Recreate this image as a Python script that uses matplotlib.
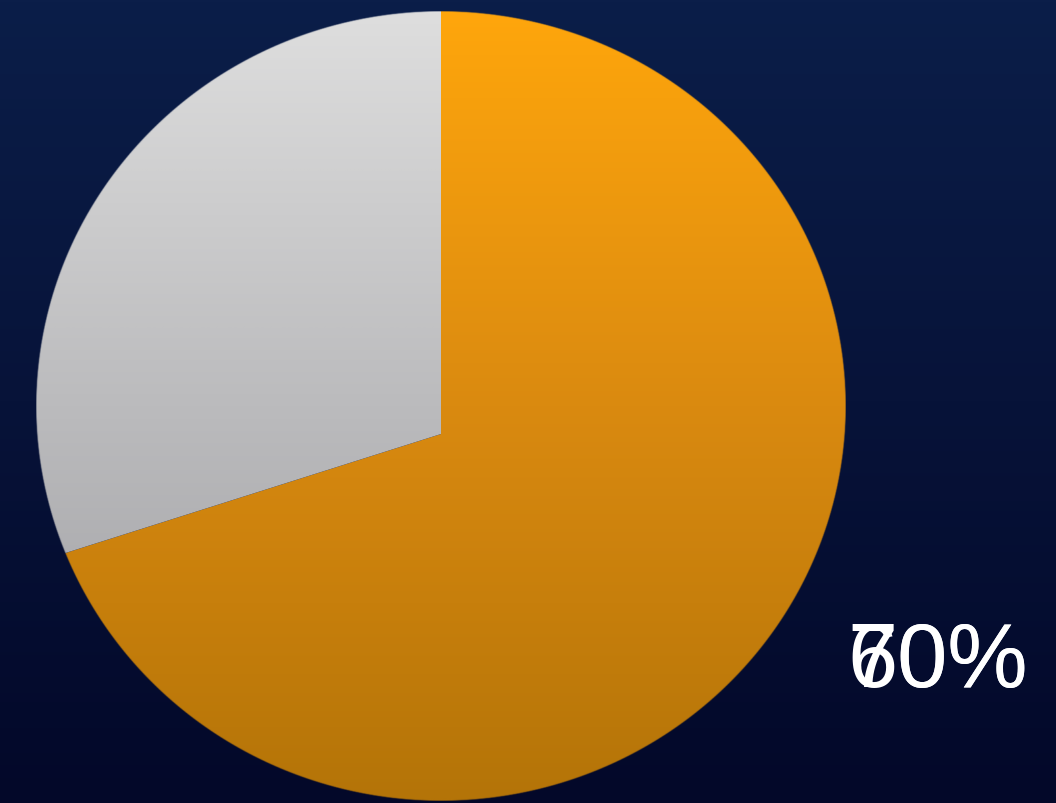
import numpy as np
import matplotlib
matplotlib.use("Agg")
import matplotlib.pyplot as plt
from matplotlib.colors import LinearSegmentedColormap

# Data
categories = ["Done", "Remaining"]
values = [70, 30]
labels = ["70%", "60%"]

W, H = 1056, 804
fig = plt.figure(figsize=(W / 100, H / 100), dpi=100)

# Background gradient
bg = fig.add_axes([0, 0, 1, 1])
bg_cmap = LinearSegmentedColormap.from_list("bg", ["#0B1E49", "#030829"])
bg.imshow(np.linspace(0, 1, 256).reshape(-1, 1), aspect="auto", cmap=bg_cmap,
          extent=(0, 1, 0, 1), origin="upper")
bg.set_axis_off()

# Pie axes (pixel geometry): outline ellipse, vertex slightly below its centre
cx, cy = 441, 407
rx, ry = 405, 395
vertex_off = 28 / ry
ax = fig.add_axes([(cx - rx) / W, (H - cy - ry) / H, 2 * rx / W, 2 * ry / H])
ax.set_facecolor("none")
wedges, _ = ax.pie(values, startangle=90, counterclock=False,
                   colors=["none", "none"], radius=1.2,
                   center=(0, -vertex_off),
                   wedgeprops=dict(linewidth=0))
ax.set_xlim(-1, 1)
ax.set_ylim(-1, 1)
ax.set_aspect("auto")
ax.set_axis_off()

# gradient images with the outline (unit circle in axes data) as alpha mask
n = 1200
ys, xs = np.mgrid[1:-1:n * 1j, -1:1:n * 1j]
r = np.sqrt(xs ** 2 + ys ** 2)
alpha = np.clip((1 - r) * ry + 0.5, 0, 1)
t = (1 - ys) / 2

grad_colors = [["#FFA60C", "#DA8A10", "#B47408"],
               ["#DEDEDE", "#BBBBBD", "#9C9CA0"]]
for w, cols in zip(wedges, grad_colors):
    cmap = LinearSegmentedColormap.from_list("g", cols)
    rgba = cmap(t)
    rgba[..., 3] = alpha
    im = ax.imshow(rgba, extent=(-1, 1, -1, 1), origin="upper",
                   aspect="auto", interpolation="bilinear",
                   zorder=w.get_zorder() + 0.1)
    im.set_clip_path(w)

# Overlapping labels
for lab in labels:
    fig.text(847 / W, 1 - 687 / H, lab, color="white", fontsize=65,
             family="Liberation Sans", ha="left", va="baseline")

fig.savefig("out.png", dpi=100)
